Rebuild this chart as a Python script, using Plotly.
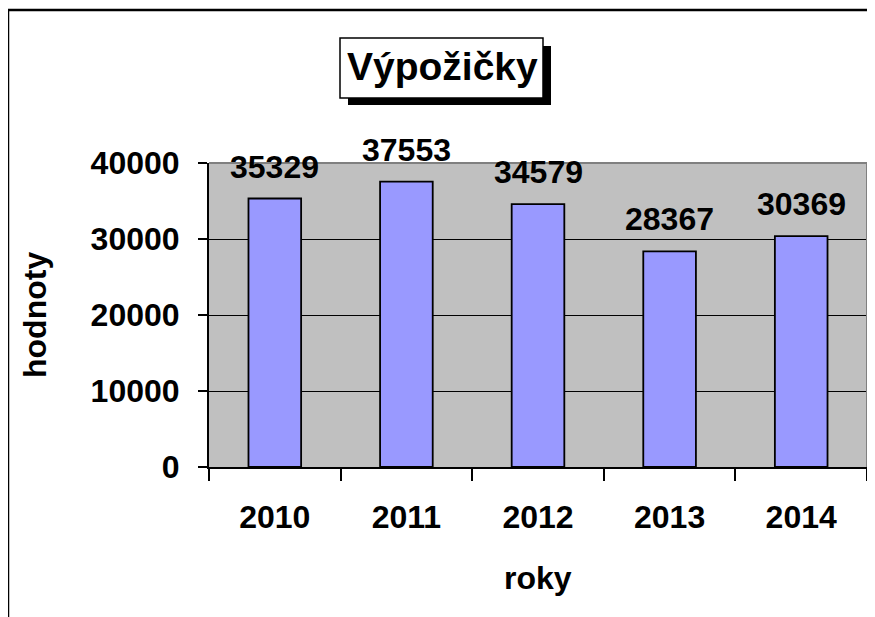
import plotly.graph_objects as go

# ---- data ----
years = ["2010", "2011", "2012", "2013", "2014"]
values = [35329, 37553, 34579, 28367, 30369]
y_ticks = [0, 10000, 20000, 30000, 40000]
title_text = "Výpožičky"
x_title = "roky"
y_title = "hodnoty"

# the page body has an 8px margin, so the figure is drawn 8px in from the window corner
OFF = 8
W, H = 875 - OFF, 617 - OFF
# plot area in window pixels: x 209..867, y 163..467
L, R, T, B = 209 - OFF, W - (867 - OFF), 163 - OFF, H - (467 - OFF)
PW, PH = W - L - R, H - T - B

def px(x):
    return (x - OFF - L) / PW

def py(y):
    return (H - B - (y - OFF)) / PH

FONT = "Liberation Sans, Arial, sans-serif"

fig = go.Figure()
fig.add_trace(go.Bar(
    x=years, y=values,
    marker=dict(color="#9999FF", line=dict(color="black", width=1.8)),
    hoverinfo="skip",
))

annotations = []
for i, v in enumerate(values):
    annotations.append(dict(
        x=i, y=v, xref="x", yref="y", text=str(v), showarrow=False,
        yanchor="bottom", yshift=12,
        font=dict(family=FONT, size=32, color="black", weight="bold"),
    ))

# axis titles
annotations.append(dict(
    x=px(35), y=0.5, xref="paper", yref="paper", text=y_title, showarrow=False,
    textangle=-90, xanchor="center", yanchor="middle",
    font=dict(family=FONT, size=32, color="black", weight="bold"),
))
annotations.append(dict(
    x=0.5, y=py(578), xref="paper", yref="paper", text=x_title, showarrow=False,
    xanchor="center", yanchor="middle",
    font=dict(family=FONT, size=32, color="black", weight="bold"),
))
# chart title
annotations.append(dict(
    x=px(442), y=py(66), xref="paper", yref="paper", text=title_text, showarrow=False,
    xanchor="center", yanchor="middle",
    font=dict(family=FONT, size=39, color="black", weight="bold"),
))

shapes = [
    # outer chart frame
    dict(type="rect", xref="paper", yref="paper",
         x0=px(8), x1=px(900), y0=py(640), y1=py(10),
         line=dict(color="black", width=2.5), fillcolor="rgba(0,0,0,0)", layer="above"),
    # title shadow
    dict(type="rect", xref="paper", yref="paper",
         x0=px(348), x1=px(551), y0=py(105), y1=py(46),
         line=dict(color="black", width=0), fillcolor="black", layer="above"),
    # title box
    dict(type="rect", xref="paper", yref="paper",
         x0=px(340), x1=px(543), y0=py(98), y1=py(38),
         line=dict(color="black", width=1.5), fillcolor="white", layer="above"),
    # plot area top and right border
    dict(type="line", xref="paper", yref="paper", x0=0, x1=1, y0=1, y1=1,
         line=dict(color="#808080", width=2), layer="above"),
    dict(type="line", xref="paper", yref="paper", x0=1, x1=1, y0=0, y1=1,
         line=dict(color="#808080", width=2), layer="above"),
]

fig.update_layout(
    width=W, height=H,
    margin=dict(l=L, r=R, t=T, b=B, pad=0),
    paper_bgcolor="white",
    plot_bgcolor="#C0C0C0",
    showlegend=False,
    bargap=0.6,
    annotations=annotations,
    shapes=shapes,
    font=dict(family=FONT, color="black"),
    xaxis=dict(
        type="category", range=[-0.5, 4.5],
        tickson="boundaries", ticks="outside", ticklen=12, tickwidth=1.5, tickcolor="black",
        showline=True, linecolor="black", linewidth=2,
        showgrid=False, zeroline=False,
        tickfont=dict(family=FONT, size=32, color="black", weight="bold"),
        ticklabelstandoff=21,
    ),
    yaxis=dict(
        range=[0, 40000], tickvals=y_ticks, ticktext=[str(t) for t in y_ticks],
        ticks="outside", ticklen=9, tickwidth=1.5, tickcolor="black",
        showline=True, linecolor="black", linewidth=2,
        showgrid=True, gridcolor="black", gridwidth=1.2, zeroline=False,
        tickfont=dict(family=FONT, size=32, color="black", weight="bold"),
        ticklabelstandoff=12,
    ),
)

fig.write_html("out.html")
